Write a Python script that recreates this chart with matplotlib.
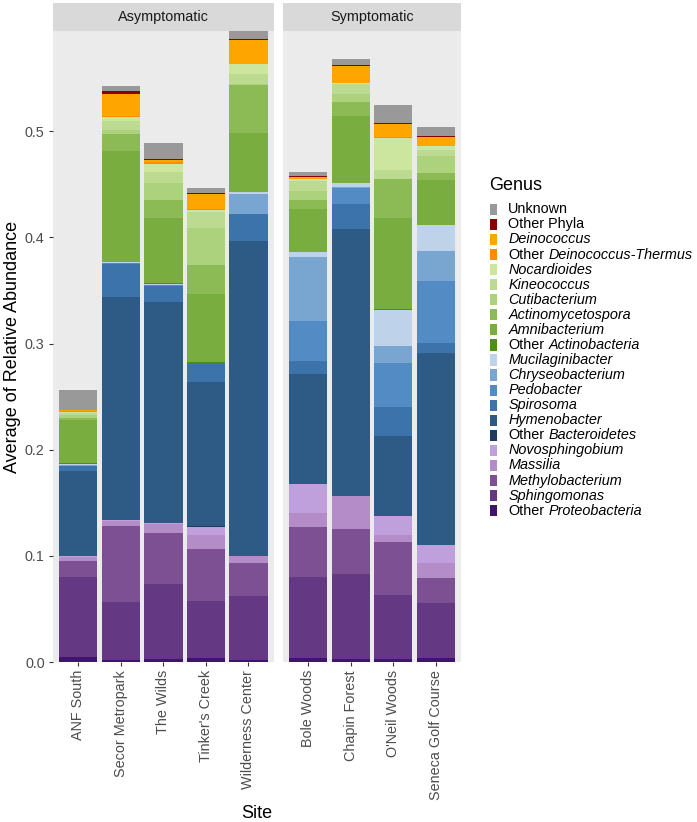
import matplotlib
matplotlib.use("Agg")
import matplotlib.pyplot as plt
from matplotlib.patches import Rectangle

plt.rcParams['font.family'] = 'Liberation Sans'

# ---------------------------------------------------------------
# Datos: abundancia relativa media por sitio (de abajo hacia arriba)
# ---------------------------------------------------------------
genus = ["Other Proteobacteria", "Sphingomonas", "Methylobacterium", "Massilia",
         "Novosphingobium", "Other Bacteroidetes", "Hymenobacter", "Spirosoma",
         "Pedobacter", "Chryseobacterium", "Mucilaginibacter", "Other Actinobacteria",
         "Amnibacterium", "Actinomycetospora", "Cutibacterium", "Kineococcus",
         "Nocardioides", "Other Deinococcus-Thermus", "Deinococcus", "Other Phyla",
         "Unknown"]

colores = ["#40146A", "#643882", "#7C5092", "#B48CC8", "#BFA0DC", "#1F3C5E",
           "#2E5B86", "#3C73AA", "#538BC4", "#79A6D0", "#BED3E9", "#4D8F0F",
           "#7AAD3F", "#8CBA55", "#ADD27E", "#BCDB91", "#CCE69F", "#FF8C00",
           "#FFA500", "#8B0000", "#999999"]

asintomaticos = ["ANF South", "Secor Metropark", "The Wilds", "Tinker's Creek",
                 "Wilderness Center"]
sintomaticos = ["Bole Woods", "Chapin Forest", "O'Neil Woods", "Seneca Golf Course"]

anf_south = [.005, .075, .015, .004, .001, 0, .080, .0047, .0003, .001, .001, .0005,
             .0409, .0016, .0027, .0018, .0015, .0008, .0004, .0006, .0182]
secor = [.002, .0542, .0716, .0052, .0005, 0, .2105, .0313, .0002, .0005, .0009, .0003,
         .1043, .0155, .0046, .0081, .0038, .001, .0205, .003, .005]
wilds = [.003, .0708, .0478, .0088, .0006, 0, .208, .0156, .0004, .0005, .001, .0005,
         .0617, .0163, .0167, .0103, .007, .0025, .0012, .0013, .0154]
tinkers = [.004, .0535, .0493, .0129, .0075, .0013, .1353, .0176, .0002, .0002, .0002, .0002,
           .0642, .0276, .0346, .0151, .0025, .001, .0141, .0007, .0043]
wilderness = [.002, .0602, .0314, .006, .0004, 0, .2967, .0253, .0005, .0188, .0015, .0002,
              .0554, .0456, .0005, .0092, .0094, .0005, .0221, .0016, .0072]
bole = [.0038, .0762, .047, .0137, .0273, 0, .1037, .0123, .0373, .0603, .0047, 0,
        .0408, .0079, .0088, .0094, .0016, .0004, .0018, .0012, .0032]
chapin = [.003, .0803, .0424, .0304, 0, 0, .2519, .0232, .0158, .0005, .0035, .0002,
          .0628, .0136, .0073, .0101, .0002, .0003, .0157, .001, .0056]
oneil = [.003, .0598, .0502, .0064, .0182, 0, .0751, .0279, .0414, .0154, .034, .0011,
         .0862, .0361, .0003, .0082, .0307, .0005, .0124, .0013, .017]
seneca = [.004, .0513, .0239, .0144, .017, 0, .1805, .0095, .0584, .0282, .0242, .0002,
          .0422, .0066, .0161, .0056, .0038, .0003, .0083, .001, .0089]

datos_asint = [anf_south, secor, wilds, tinkers, wilderness]
datos_sint = [bole, chapin, oneil, seneca]

yticks = [0.0, 0.1, 0.2, 0.3, 0.4, 0.5]

# ---------------------------------------------------------------
# Figura (coordenadas en pixeles)
# ---------------------------------------------------------------
W, H = 697, 822
fig = plt.figure(figsize=(W / 100, H / 100), dpi=100)


def ejes_px(x0, y0, x1, y1):
    return fig.add_axes([x0 / W, 1 - y1 / H, (x1 - x0) / W, (y1 - y0) / H])


ymax = max(sum(s) for s in datos_asint + datos_sint)

paneles = [
    ("Asymptomatic", asintomaticos, datos_asint, (52.7, 274)),
    ("Symptomatic", sintomaticos, datos_sint, (282.7, 461.3)),
]

for k, (titulo, sitios, datos, (x0, x1)) in enumerate(paneles):
    ax = ejes_px(x0, 31, x1, 662)
    ax.set_facecolor("#EBEBEB")
    n = len(sitios)
    base = [0.0] * n
    for gi in range(len(genus)):
        alturas = [d[gi] for d in datos]
        ax.bar(range(n), alturas, bottom=base, width=0.9, color=colores[gi], linewidth=0)
        base = [b + a for b, a in zip(base, alturas)]
    ax.set_xlim(-0.6, n - 0.4)
    ax.set_ylim(0, ymax)
    for s in ax.spines.values():
        s.set_visible(False)
    ax.set_xticks(range(n))
    ax.set_xticklabels(sitios, rotation=90, fontsize=10.4, color="#4D4D4D")
    ax.tick_params(axis="x", length=3.2, width=0.8, color="#333333", pad=2.6)
    if k == 0:
        ax.set_yticks(yticks)
        ax.set_yticklabels(["%.1f" % v for v in yticks], fontsize=10.4, color="#4D4D4D")
        ax.tick_params(axis="y", length=3.2, width=0.8, color="#333333", pad=2.6)
        ax.set_ylabel("Average of Relative Abundance", fontsize=13, color="black")
        ax.yaxis.set_label_coords(-0.145, 0.5)
    else:
        ax.tick_params(axis="y", left=False, labelleft=False)

    # franja del facet
    st = ejes_px(x0, 3, x1, 31)
    st.set_facecolor("#D9D9D9")
    st.set_xticks([])
    st.set_yticks([])
    for s in st.spines.values():
        s.set_visible(False)
    st.text(0.5, 0.5, titulo, ha="center", va="center", fontsize=10.4,
            color="#1A1A1A", transform=st.transAxes)

fig.text(257 / W, 1 - 813 / H, "Site", ha="center", va="center", fontsize=13)

# ---------------------------------------------------------------
# Leyenda (nombres de genero en cursiva)
# ---------------------------------------------------------------
lg = fig.add_axes([0, 0, 1, 1])
lg.set_xlim(0, W)
lg.set_ylim(H, 0)
lg.axis("off")
lg.patch.set_alpha(0)
rend = fig.canvas.get_renderer()

lg.text(489, 185, "Genus", ha="left", va="center", fontsize=13)
orden = list(range(len(genus)))[::-1]
for i, gi in enumerate(orden):
    yc = 209.3 + i * 15.07
    nombre = genus[gi]
    lg.add_patch(Rectangle((489.8, yc - 5.6), 7.5, 11.2, facecolor=colores[gi], linewidth=0))
    if nombre in ("Unknown", "Other Phyla"):
        lg.text(508.3, yc, nombre, ha="left", va="center", fontsize=10.4)
    elif nombre.startswith("Other "):
        t = lg.text(508.3, yc, "Other", ha="left", va="center", fontsize=10.4)
        ancho = t.get_window_extent(rend).width
        lg.text(508.3 + ancho + 4.0, yc, nombre[6:], ha="left", va="center",
                fontsize=10.4, style="italic")
    else:
        lg.text(508.3, yc, nombre, ha="left", va="center", fontsize=10.4, style="italic")

plt.savefig("out.png", dpi=100)
